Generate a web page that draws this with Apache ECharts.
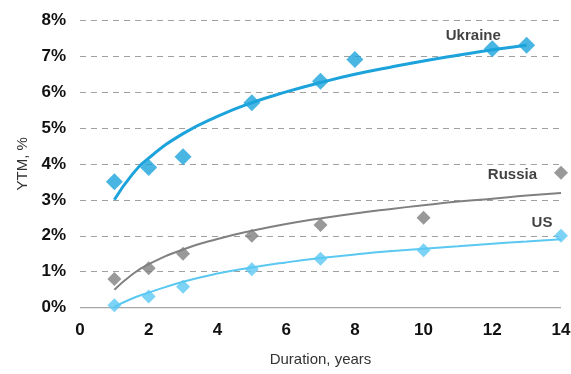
<!DOCTYPE html>
<html><head><meta charset="utf-8">
<script src="https://cdn.jsdelivr.net/npm/echarts@6/dist/echarts.min.js"></script>
<style>html,body{margin:0;padding:0;background:#fff}#c{width:571px;height:374px}</style>
</head><body><div id="c"></div>
<script>
// Observed points: [duration, YTM %]
const ukrainePts = [[1,3.5],[2,3.9],[3,4.2],[5,5.7],[7,6.3],[8,6.9],[12,7.2],[13,7.3]];
const russiaPts  = [[1,0.8],[2,1.1],[3,1.5],[5,2.0],[7,2.3],[10,2.5],[14,3.75]];
const usPts      = [[1,0.07],[2,0.31],[3,0.58],[5,1.07],[7,1.36],[10,1.6],[14,2.0]];
// Trend lines
const ukraineTrend = [[1,3.0],[1.5,3.68],[2,4.16],[3,4.84],[4,5.32],[5,5.70],[6,6.00],[7,6.26],[8,6.49],[9,6.68],[10,6.86],[11,7.02],[12,7.17],[13,7.30]];
const russiaTrend  = [[1,0.50],[1.5,0.91],[2,1.21],[3,1.62],[4,1.91],[5,2.14],[6,2.33],[7,2.48],[8,2.62],[9,2.74],[10,2.85],[11,2.95],[12,3.03],[13,3.12],[14,3.19]];
const usTrend      = [[1,0.02],[1.5,0.25],[2,0.42],[3,0.72],[4,0.95],[5,1.12],[6,1.26],[7,1.38],[8,1.48],[9,1.57],[10,1.64],[11,1.71],[12,1.78],[13,1.84],[14,1.90]];
const seriesNames = ['Ukraine','Russia','US'];

const UA = '#1CA3DC', RU = '#808080', US = '#5BC8F2';
const fontF = '"Liberation Sans", Arial, sans-serif';

function labeled(pts, idx, label) {
  return pts.map((p, i) => i === idx ? {value: p, label: label} : p);
}

const chart = echarts.init(document.getElementById('c'));
chart.setOption({
  animation: false,
  grid: {left: 80, right: 10, top: 20, bottom: 66.3, outerBoundsMode: 'none', containLabel: false},
  xAxis: {
    type: 'value', min: 0, max: 14, interval: 2,
    name: 'Duration, years', nameLocation: 'middle', nameGap: 45,
    nameTextStyle: {fontFamily: fontF, fontSize: 15, color: '#333'},
    axisLine: {show: false}, axisTick: {show: false}, splitLine: {show: false},
    axisLabel: {fontFamily: fontF, fontSize: 17, fontWeight: 'bold', color: '#111', margin: 14}
  },
  yAxis: {
    type: 'value', min: 0, max: 8, interval: 1,
    name: 'YTM, %', nameLocation: 'middle', nameGap: 50,
    nameTextStyle: {fontFamily: fontF, fontSize: 15, color: '#333'},
    axisLine: {show: false}, axisTick: {show: false},
    axisLabel: {fontFamily: fontF, fontSize: 17, fontWeight: 'bold', color: '#111', margin: 14, formatter: v => v + '%'},
    splitLine: {lineStyle: {color: '#A0A0A0', type: [6, 5], width: 1}}
  },
  series: [
    {type: 'line', data: [[0,0],[14,0]], symbol: 'none', silent: true, lineStyle: {color: '#A6A6A6', width: 1.5}, z: 1},
    {type: 'line', name: 'UkraineTrend', data: ukraineTrend, smooth: true, symbol: 'none', lineStyle: {color: UA, width: 3}, z: 3},
    {type: 'line', name: 'RussiaTrend', data: russiaTrend, smooth: true, symbol: 'none', lineStyle: {color: RU, width: 2}, z: 3},
    {type: 'line', name: 'USTrend', data: usTrend, smooth: true, symbol: 'none', lineStyle: {color: US, width: 2}, z: 3},
    {type: 'scatter', name: seriesNames[0], symbol: 'diamond', symbolSize: 17, itemStyle: {color: UA}, z: 4,
      data: labeled(ukrainePts, 6, {show: true, formatter: seriesNames[0], position: 'top', distance: 0, offset: [-19, 3],
        fontFamily: fontF, fontSize: 15, fontWeight: 'bold', color: '#111'})},
    {type: 'scatter', name: seriesNames[1], symbol: 'diamond', symbolSize: 14, itemStyle: {color: RU}, z: 4,
      data: labeled(russiaPts, 6, {show: true, formatter: seriesNames[1], position: 'left', distance: 17, offset: [0, 2],
        fontFamily: fontF, fontSize: 15, fontWeight: 'bold', color: '#111'})},
    {type: 'scatter', name: seriesNames[2], symbol: 'diamond', symbolSize: 14, itemStyle: {color: US}, z: 4,
      data: labeled(usPts, 6, {show: true, formatter: seriesNames[2], position: 'top', distance: 0, offset: [-19, 2],
        fontFamily: fontF, fontSize: 15, fontWeight: 'bold', color: '#111'})}
  ]
});
</script></body></html>
